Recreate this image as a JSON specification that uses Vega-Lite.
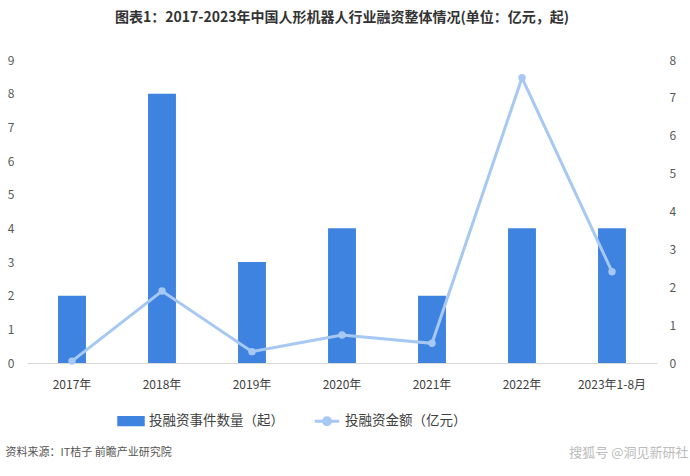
{
  "$schema": "https://vega.github.io/schema/vega-lite/v6.json",
  "description": "2017-2023 China humanoid robot financing overview",
  "width": 630,
  "height": 303,
  "autosize": "none",
  "padding": {"left": 27, "top": 60, "right": 33, "bottom": 113},
  "background": "white",
  "config": {
    "view": {"stroke": "transparent"},
    "font": "Noto Sans CJK SC",
    "axis": {"grid": false, "ticks": false, "labelFontSize": 12, "labelColor": "#595959"}
  },
  "title": {
    "text": "图表1：2017-2023年中国人形机器人行业融资整体情况(单位：亿元，起)",
    "fontSize": 14,
    "fontWeight": "bold",
    "color": "#333333",
    "anchor": "middle",
    "offset": 29
  },
  "data": {
    "values": [
      {"year": "2017年", "count": 2, "amount": 0.05},
      {"year": "2018年", "count": 8, "amount": 1.9},
      {"year": "2019年", "count": 3, "amount": 0.3},
      {"year": "2020年", "count": 4, "amount": 0.74},
      {"year": "2021年", "count": 2, "amount": 0.52},
      {"year": "2022年", "count": 4, "amount": 7.53},
      {"year": "2023年1-8月", "count": 4, "amount": 2.41}
    ]
  },
  "encoding": {
    "x": {
      "field": "year",
      "type": "nominal",
      "sort": null,
      "scale": {"paddingInner": 0.69, "paddingOuter": 0.345},
      "axis": {
        "orient": "bottom",
        "labelAngle": 0,
        "labelColor": "#404040",
        "labelPadding": 16,
        "domainColor": "#D9D9D9",
        "title": "资料来源：IT桔子 前瞻产业研究院",
        "titleAnchor": "start",
        "titleAlign": "left",
        "titleBaseline": "middle",
        "titleX": -22,
        "titleY": 89,
        "titleFontSize": 11,
        "titleFontWeight": "normal",
        "titleColor": "#555555"
      }
    }
  },
  "layer": [
    {
      "mark": {"type": "bar", "color": "#3F83E0"},
      "encoding": {
        "y": {
          "field": "count",
          "type": "quantitative",
          "scale": {"domain": [0, 9], "nice": false},
          "axis": {"values": [0, 1, 2, 3, 4, 5, 6, 7, 8, 9], "domain": false, "labelPadding": 13, "title": null}
        },
        "color": {
          "datum": "投融资事件数量（起）",
          "type": "nominal",
          "scale": {
            "domain": ["投融资事件数量（起）", "投融资金额（亿元）"],
            "range": ["#3F83E0", "#A6C8F2"]
          },
          "legend": {
            "title": null,
            "orient": "none",
            "direction": "horizontal",
            "legendX": 90,
            "legendY": 347,
            "labelFontSize": 13.5,
            "labelColor": "#404040",
            "symbolSize": 600,
            "columnPadding": 24,
            "labelOffset": 4,
            "encode": {
              "symbols": {
                "update": {
                  "shape": {"signal": "datum.label === '投融资事件数量（起）' ? 'M-1,-0.3H1V0.3H-1Z' : 'M-1,0H1M-0.28,0A0.28,0.28 0 1 1 0.28,0A0.28,0.28 0 1 1 -0.28,0Z'"},
                  "fill": {"signal": "datum.label === '投融资事件数量（起）' ? '#3F83E0' : '#7FB0EC'"},
                  "stroke": {"signal": "datum.label === '投融资事件数量（起）' ? 'transparent' : '#A6C8F2'"},
                  "strokeWidth": {"value": 3},
                  "opacity": {"value": 1},
                  "fillOpacity": {"value": 1},
                  "strokeOpacity": {"value": 1}
                }
              }
            }
          }
        }
      }
    },
    {
      "mark": {"type": "line", "strokeWidth": 3, "point": {"size": 55, "filled": true, "color": "#9CC2F0"}},
      "encoding": {
        "x": {
          "field": "year",
          "type": "nominal",
          "sort": null,
          "axis": {
            "orient": "bottom",
            "labels": false,
            "domain": false,
            "title": "搜狐号 @洞见新研社",
            "titleAnchor": "end",
            "titleAlign": "right",
            "titleBaseline": "middle",
            "titleX": 661,
            "titleY": 89,
            "titleFontSize": 13,
            "titleFontWeight": "normal",
            "titleColor": "#BBBBBB"
          }
        },
        "y": {
          "field": "amount",
          "type": "quantitative",
          "scale": {"domain": [0, 8], "nice": false},
          "axis": {"orient": "right", "values": [0, 1, 2, 3, 4, 5, 6, 7, 8], "domain": false, "labelPadding": 12, "title": null}
        },
        "color": {"datum": "投融资金额（亿元）", "type": "nominal"}
      }
    }
  ],
  "resolve": {"scale": {"y": "independent"}, "axis": {"x": "independent"}}
}
